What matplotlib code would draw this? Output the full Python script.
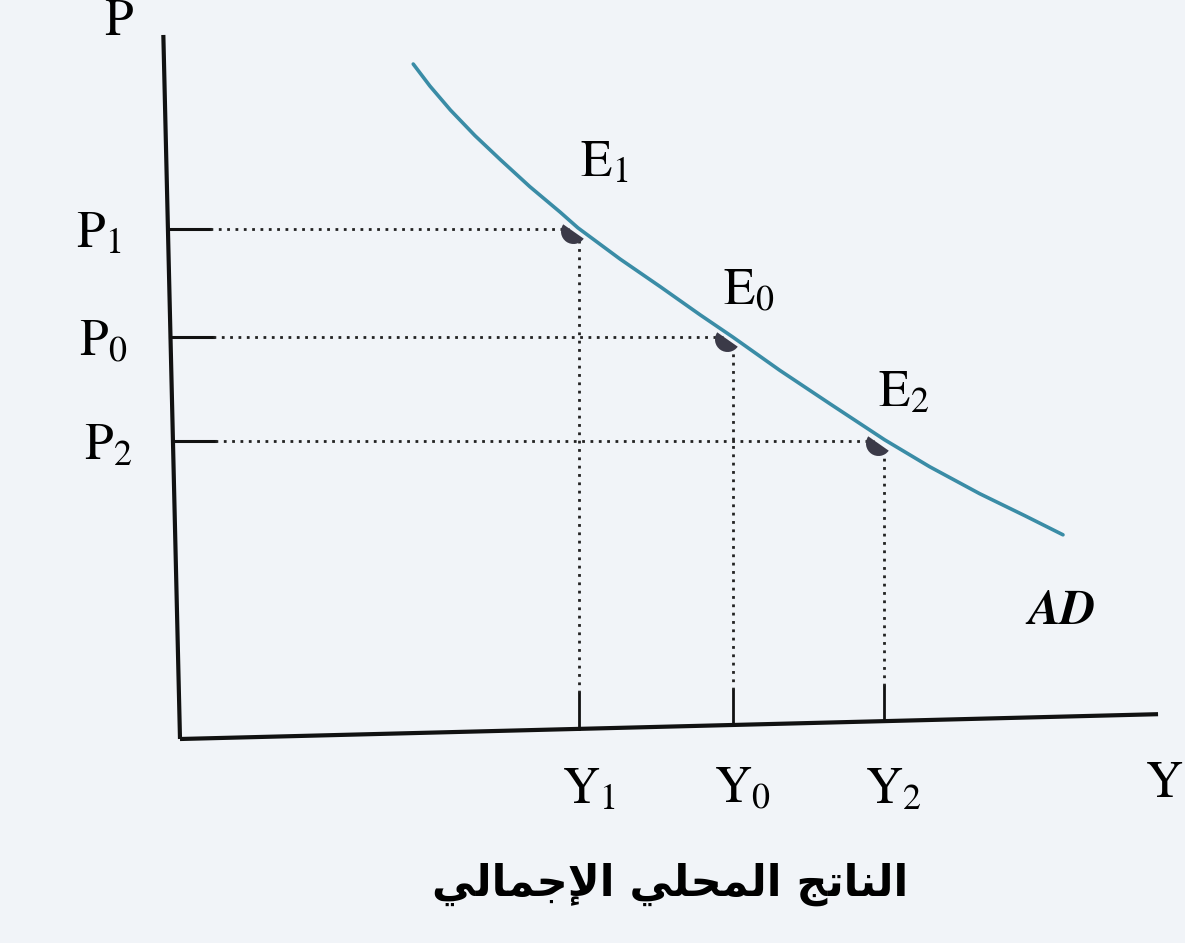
import matplotlib
matplotlib.use("Agg")
import matplotlib.pyplot as plt
from matplotlib.markers import MarkerStyle
from matplotlib.transforms import Affine2D

plt.rcParams['mathtext.fontset'] = 'stix'

# ---- data (axis units 0..100) ----
ad_output = [23.8, 25.5, 27.6, 30.1, 32.7, 35.7, 38.8, 40.6, 44.9, 49.0,
             53.1, 56.4, 61.2, 66.3, 71.9, 76.5, 81.6, 86.2, 90.1]
ad_price = [95.2, 92.1, 88.7, 85.1, 81.7, 77.9, 74.3, 72.1, 67.7, 63.8,
            59.8, 56.7, 52.0, 47.3, 42.2, 38.4, 34.6, 31.5, 28.8]

eq_output = [40.7, 56.4, 71.8]     # Y1, Y0, Y2
eq_price = [71.9, 56.7, 42.1]      # P1, P0, P2
y_tick_labels = [r"$\mathrm{Y}_1$", r"$\mathrm{Y}_0$", r"$\mathrm{Y}_2$"]
p_tick_labels = [r"$\mathrm{P}_1$", r"$\mathrm{P}_0$", r"$\mathrm{P}_2$"]
e_labels = [r"$\mathrm{E}_1$", r"$\mathrm{E}_0$", r"$\mathrm{E}_2$"]

# Arabic caption (presentation forms, visual order): "الناتج المحلي الإجمالي"
x_caption = ("\uFEF2\uFEDF\uFE8E\uFEE4\uFE9F\uFEF9\uFE8D" + " " +
             "\uFEF2\uFEE0\uFEA4\uFEE4\uFEDF\uFE8D" + " " +
             "\uFE9E\uFE97\uFE8E\uFEE8\uFEDF\uFE8D")

# ---- figure ----
W, H = 1185, 943
bg = '#f1f4f8'
fig = plt.figure(figsize=(W / 100, H / 100), dpi=100, facecolor=bg)
ax = fig.add_axes([180 / W, (H - 739) / H, 980 / W, 709 / H])
ax.set_xlim(0, 100)
ax.set_ylim(0, 100)
ax.set_facecolor(bg)
ax.axis('off')

# slight scan skew of the axes
x_axis_end = (99.8, 3.5)
y_axis_end = (-1.7, 99.3)
ax.plot([0, x_axis_end[0]], [0, x_axis_end[1]], color='#111111', lw=3.0,
        solid_capstyle='butt', clip_on=False)
ax.plot([0, y_axis_end[0]], [0, y_axis_end[1]], color='#111111', lw=3.0,
        solid_capstyle='butt', clip_on=False)


def x_axis_height(x):
    return x_axis_end[1] * x / x_axis_end[0]


def y_axis_pos(y):
    return y_axis_end[0] * y / y_axis_end[1]


dot_style = (0, (1, 2.0))
for yv, pv in zip(eq_output, eq_price):
    base = x_axis_height(yv)
    # solid tick on the output axis
    ax.plot([yv, yv], [base, base + 5.0], color='#111111', lw=2.0, clip_on=False)
    ax.plot([yv, yv], [base + 5.0, pv - 1.2], color='#222222', lw=2.0, ls=dot_style)
    left = y_axis_pos(pv)
    ax.plot([left, left + 4.3], [pv, pv], color='#111111', lw=2.2, clip_on=False)
    ax.plot([left + 4.3, yv - 1.0], [pv, pv], color='#222222', lw=2.0, ls=dot_style)

# AD curve
ax.plot(ad_output, ad_price, color='#3a8ca6', lw=2.6, solid_capstyle='round',
        solid_joinstyle='round', clip_on=False, zorder=3)

# equilibrium markers (half discs under the curve)
for yv, pv in zip(eq_output, eq_price):
    ms = MarkerStyle('o', fillstyle='bottom',
                     transform=Affine2D().rotate_deg(-35))
    ax.plot([yv - 0.6], [pv - 0.3], marker=ms, markersize=18, color='#3b3a48',
            markerfacecoloralt='none', markeredgewidth=0, ls='none', zorder=4)

fs = 37
# axis letters
ax.text(-6.3, 101.0, "P", fontsize=fs, family='STIXGeneral', ha='center',
        va='center')
ax.text(100.5, -6.5, "Y", fontsize=fs, family='STIXGeneral', ha='center',
        va='center')

# tick labels
p_label_x = [-8.3, -7.8, -7.3]
for lab, pv, lx in zip(p_tick_labels, eq_price, p_label_x):
    ax.text(lx, pv - 0.6, lab, fontsize=fs, ha='center', va='center')
for lab, yv in zip(y_tick_labels, eq_output):
    ax.text(yv + 1.0, -7.0, lab, fontsize=fs, ha='center', va='center')

# equilibrium labels
e_offsets = [(2.6, 9.5), (1.6, 6.5), (2.0, 6.8)]
for lab, yv, pv, (dx, dy) in zip(e_labels, eq_output, eq_price, e_offsets):
    ax.text(yv + dx, pv + dy, lab, fontsize=fs, ha='center', va='center')

# AD label
ax.text(90.0, 18.0, "AD", fontsize=35, family='STIXGeneral', style='italic',
        weight='bold', ha='center', va='center')

# Arabic caption
ax.text(50.0, -20.5, x_caption, fontsize=31, family='DejaVu Sans',
        weight='bold', ha='center', va='center')

fig.savefig('out.png', dpi=100, facecolor=bg)
